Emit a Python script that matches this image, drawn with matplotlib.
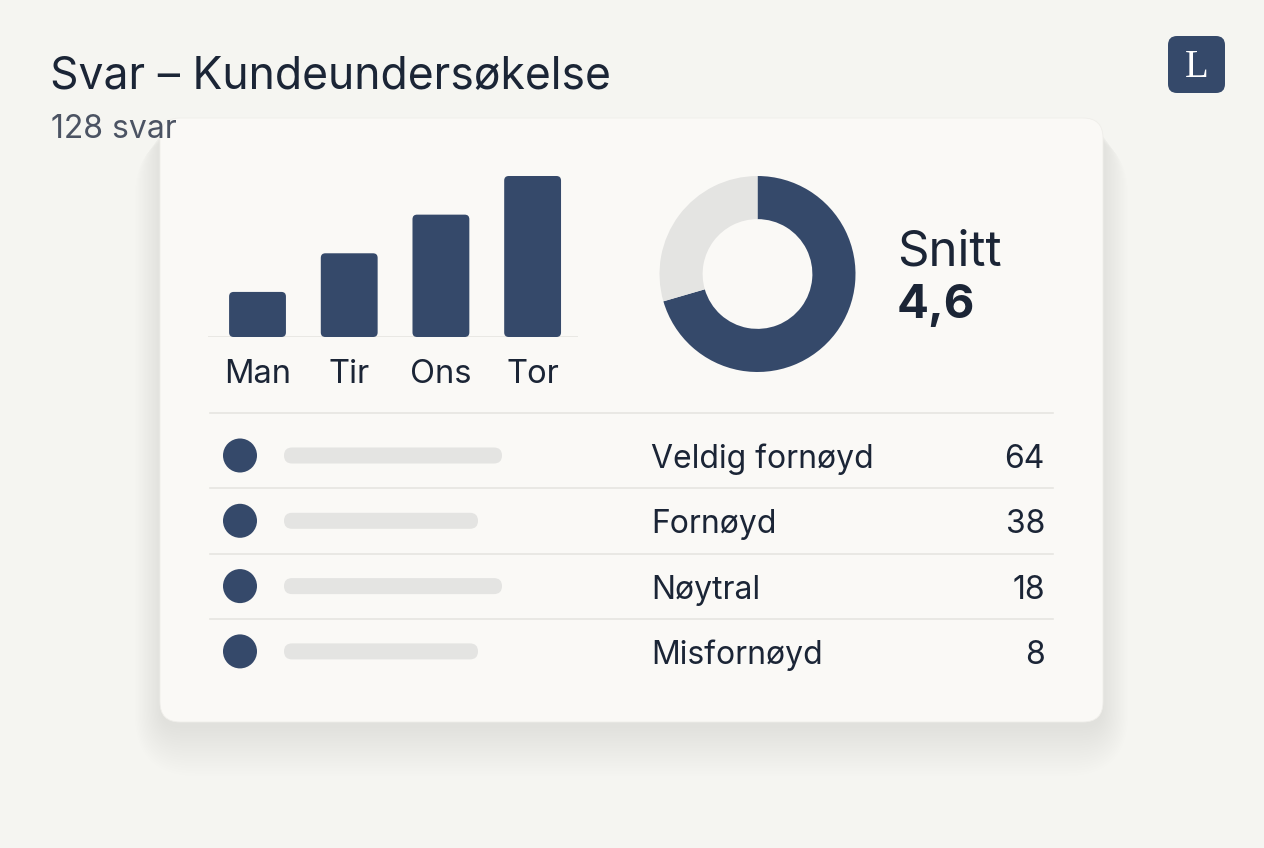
import matplotlib
matplotlib.use('Agg')
import matplotlib.pyplot as plt
from matplotlib.patches import FancyBboxPatch

plt.rcParams['font.family'] = ['Inter', 'DejaVu Sans']

# data
title = 'Svar – Kundeundersøkelse'
days = ['Man', 'Tir', 'Ons', 'Tor']
day_counts = [14, 26, 38, 50]
donut_share = [70.5, 29.5]
avg_title = 'Snitt'
avg_value = '4,6'
categories = ['Veldig fornøyd', 'Fornøyd', 'Nøytral', 'Misfornøyd']
cat_counts = [64, 38, 18, 8]
subtitle = '{} svar'.format(sum(cat_counts))

# colours
BG = '#f5f5f1'
CARD = '#faf9f6'
NAVY = '#35496a'
DARK = '#1b2536'
GREY_TXT = '#4b5363'
LINE = '#e6e5e1'
PLACE = '#e4e4e2'

W, H = 1264, 848
fig = plt.figure(figsize=(W / 100, H / 100), dpi=100)
fig.patch.set_facecolor(BG)

# pixel-space axes for the layout
ax = fig.add_axes([0, 0, 1, 1])
ax.set_xlim(0, W)
ax.set_ylim(H, 0)
ax.axis('off')


def px_axes(x0, y0, x1, y1):
    return fig.add_axes([x0 / W, 1 - y1 / H, (x1 - x0) / W, (y1 - y0) / H])


# soft card shadow + card
for k in range(20):
    g = k * 2.2
    ax.add_patch(FancyBboxPatch((160 - g * 0.6, 124 + g * 0.25), 943 + 1.2 * g, 604 + g * 0.9,
                                boxstyle='round,pad=0,rounding_size={}'.format(20 + g),
                                fc='#77776c', ec='none', alpha=0.0045, zorder=1))
ax.add_patch(FancyBboxPatch((160, 118), 943, 604, boxstyle='round,pad=0,rounding_size=20',
                            fc=CARD, ec='#efeeea', lw=0.6, zorder=2))

# header
ax.text(50, 88, title, fontsize=32, color=DARK, va='baseline', ha='left', zorder=5)
ax.text(51, 138, subtitle, fontsize=23, color=GREY_TXT, va='baseline', ha='left', zorder=5)

# logo
ax.add_patch(FancyBboxPatch((1168, 36), 57, 57, boxstyle='round,pad=0,rounding_size=9',
                            fc=NAVY, ec='none', zorder=5))
ax.text(1196.5, 77, 'L', fontsize=28, color='white', family='Liberation Serif',
        ha='center', va='baseline', zorder=6)

# bar chart
ymax = 52
ax_b = px_axes(208, 337 - ymax * 3.22, 578, 337)
ax_b.set_xlim(-0.54, 3.495)
ax_b.set_ylim(0, ymax)
ax_b.axis('off')
ax_b.axhline(0, color=LINE, lw=1.2, zorder=1)
bars = ax_b.bar(range(len(days)), day_counts, width=0.62, color=NAVY, zorder=3)
asp = (370 / 4.035) / 3.22
for r in bars:
    x, y, w, h = r.get_x(), r.get_y(), r.get_width(), r.get_height()
    r.set_visible(False)
    ax_b.add_patch(FancyBboxPatch((x, y), w, h, boxstyle='round,pad=0,rounding_size=0.05',
                                  mutation_aspect=asp, fc=NAVY, ec='none', zorder=3))
for i, d in enumerate(days):
    ax_b.text(i, -(383 - 337) / (ymax * 3.22), d, transform=ax_b.get_xaxis_transform(),
              ha='center', va='baseline', fontsize=23.5, color=DARK)

# donut
ax_d = px_axes(659.5, 176, 855.5, 372)
ax_d.pie(donut_share, colors=[NAVY, PLACE], startangle=90, counterclock=False, radius=1,
         wedgeprops=dict(width=0.44, edgecolor='none'))
ax_d.set_xlim(-1, 1)
ax_d.set_ylim(-1, 1)

ax.text(897, 266, avg_title, fontsize=35.5, color=DARK, va='baseline', zorder=5)
ax.text(897, 318, avg_value, fontsize=34, color=DARK, weight='bold', va='baseline', zorder=5)

# list
ax.plot([210, 1053], [413, 413], color=LINE, lw=1.2, zorder=3)
row_y = [455.5 + 65.3 * i for i in range(len(categories))]
place_w = [218, 194, 218, 194]
for i, (cat, v) in enumerate(zip(categories, cat_counts)):
    y = row_y[i]
    if i < len(categories) - 1:
        ax.plot([210, 1053], [y + 32.7, y + 32.7], color=LINE, lw=1.2, zorder=3)
    ax.add_patch(FancyBboxPatch((284, y - 8), place_w[i], 16,
                                boxstyle='round,pad=0,rounding_size=8',
                                fc=PLACE, ec='none', zorder=4))
    ax.text(651, y + 12.5, cat, fontsize=23, color=DARK, va='baseline', ha='left', zorder=5)
    ax.text(1045, y + 12.5, str(v), fontsize=23, color=DARK, va='baseline', ha='right', zorder=5)
ax.scatter([240] * len(row_y), row_y, s=600, c=NAVY, edgecolors='none', zorder=5)

fig.savefig('out.png', dpi=100, facecolor=BG)
